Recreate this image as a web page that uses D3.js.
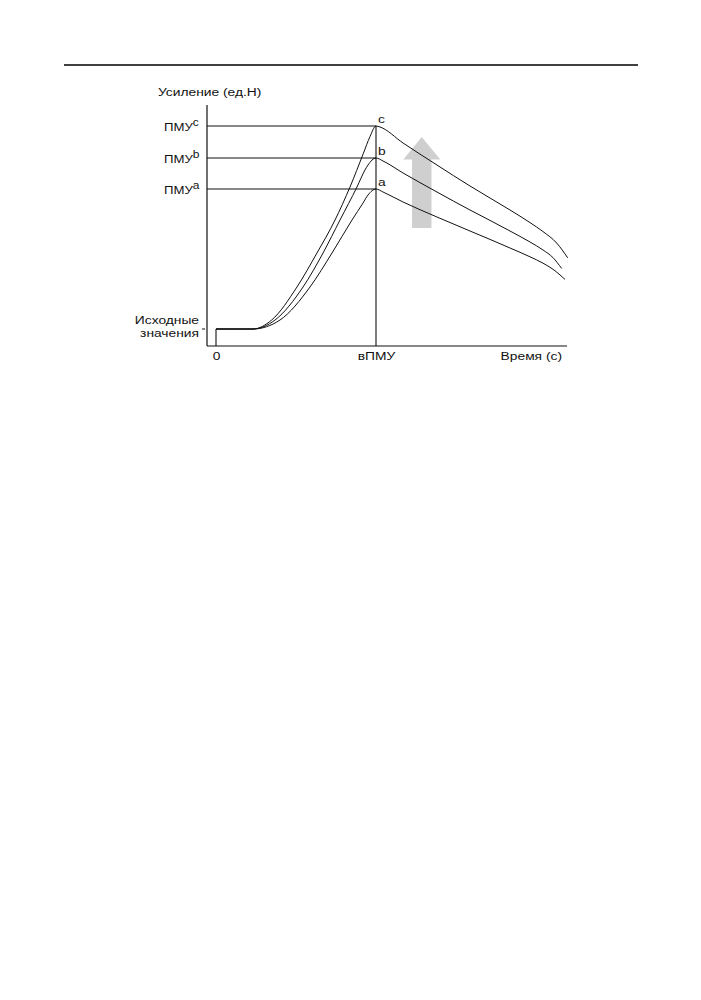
<!DOCTYPE html>
<html>
<head>
<meta charset="utf-8">
<script src="https://cdn.jsdelivr.net/npm/d3@7"></script>
<style>
  body { margin: 0; background: #fff; }
  text { font-family: "Liberation Sans", Arial, Helvetica, sans-serif; font-size: 11.5px; fill: #111; }
</style>
</head>
<body>
<svg id="chart" width="701" height="1000"></svg>
<script>
// time (s, arbitrary units) and gain (ед.Н, arbitrary units)
const timeDomain = [-0.5625, 21.9375];
const gainDomain = [0, 12.05];
const timeTicks = [0, 10];
const timeTickLabels = ['0', 'вПМУ'];
const baselineGain = 0.85;
const peakTime = 10;

const seriesNames = ['a', 'b', 'c'];
const peakGains = [7.85, 9.4, 11.0];

const seriesA = [
  [0, 0.85], [1.5, 0.85], [2.31, 0.85], [4.0, 1.3], [5.875, 2.95], [7.25, 4.65],
  [8.5, 6.3], [9.19, 7.15], [9.5, 7.55], [10, 7.85], [10.44, 7.7], [11.69, 7.2],
  [13.81, 6.45], [15.875, 5.75], [17.125, 5.33], [18.375, 4.9], [19.625, 4.46],
  [20.44, 4.14], [21.19, 3.76], [21.81, 3.33],
];
const seriesB = [
  [0, 0.85], [1.5, 0.85], [2.31, 0.85], [3.69, 1.3], [5.44, 2.95], [6.69, 4.65],
  [7.75, 6.3], [8.81, 7.95], [9.31, 8.8], [9.5, 9.05], [10, 9.4], [10.44, 9.25],
  [11.69, 8.65], [13.81, 7.7], [15.875, 6.8], [17.125, 6.28], [18.375, 5.75],
  [19.625, 5.2], [20.44, 4.8], [21.06, 4.42], [21.6, 3.88],
];
const seriesC = [
  [0, 0.85], [1.5, 0.85], [2.31, 0.85], [3.48, 1.3], [5.06, 2.95], [6.31, 4.65],
  [7.44, 6.3], [8.375, 7.95], [9.21, 9.63], [9.625, 10.47], [10, 11.0], [10.25, 10.95],
  [11.69, 10.15], [13.81, 9.05], [15.875, 8.0], [17.125, 7.4], [18.375, 6.8],
  [19.625, 6.17], [20.44, 5.72], [21.29, 5.15], [21.98, 4.41],
];

// grey arrow: centre time, tail gain, head-base gain, tip gain
const arrowTime = 12.86;
const arrowGains = [5.9, 9.33, 10.45];

const svg = d3.select('#chart');

const x = d3.scaleLinear().domain(timeDomain).range([207, 567]);
const y = d3.scaleLinear().domain(gainDomain).range([346, 105]);

// the printed face is wider than Arial, so stretch every label a little
const stretch = 1.2;
function label(px, py, str, anchor = 'start', size = null) {
  const t = svg.append('text')
    .attr('transform', `translate(${px},${py}) scale(${stretch},1)`)
    .attr('text-anchor', anchor)
    .text(str);
  if (size) t.style('font-size', `${size}px`);
  return t;
}

// rule at the top of the page
svg.append('line')
  .attr('x1', 64).attr('x2', 638)
  .attr('y1', 65).attr('y2', 65)
  .attr('stroke', '#000').attr('stroke-width', 1.4);

// arrow (behind curves)
const ax = x(arrowTime);
const shaftHalf = 9.7;
const headHalf = 18.5;
svg.append('path')
  .attr('d', d3.line()([
    [ax - shaftHalf, y(arrowGains[0])],
    [ax - shaftHalf, y(arrowGains[1])],
    [ax - headHalf, y(arrowGains[1])],
    [ax, y(arrowGains[2])],
    [ax + headHalf, y(arrowGains[1])],
    [ax + shaftHalf, y(arrowGains[1])],
    [ax + shaftHalf, y(arrowGains[0])],
  ]) + 'Z')
  .attr('fill', '#cfcfcf');

// axes
svg.append('line')
  .attr('x1', x(timeDomain[0])).attr('x2', x(timeDomain[0]))
  .attr('y1', y(gainDomain[1])).attr('y2', y(0))
  .attr('stroke', '#111').attr('stroke-width', 1.2);
svg.append('line')
  .attr('x1', x(timeDomain[0])).attr('x2', x(timeDomain[1]))
  .attr('y1', y(0)).attr('y2', y(0))
  .attr('stroke', '#111').attr('stroke-width', 1.2);

// x tick labels from the axis generator, then restyled
const xAxis = d3.axisBottom(x)
  .tickValues(timeTicks)
  .tickFormat((d, i) => timeTickLabels[i])
  .tickSize(0)
  .tickPadding(6);
const xAxisG = svg.append('g')
  .attr('transform', `translate(0,${y(0)})`)
  .call(xAxis);
xAxisG.select('.domain').remove();
xAxisG.attr('font-size', null).attr('font-family', null);
xAxisG.selectAll('text')
  .attr('fill', null)
  .attr('transform', `scale(${stretch},1)`)
  .attr('x', 0);

label(562, 360, 'Время (с)', 'end');
label(158, 96, 'Усиление (ед.Н)');

// baseline tick and label
svg.append('line')
  .attr('x1', x(timeDomain[0]) - 5).attr('x2', x(timeDomain[0]) - 2)
  .attr('y1', y(baselineGain)).attr('y2', y(baselineGain))
  .attr('stroke', '#111').attr('stroke-width', 1);
label(199, y(baselineGain) - 5, 'Исходные', 'end');
label(199, y(baselineGain) + 8, 'значения', 'end');

// zero-time vertical and peak-time vertical
svg.append('line')
  .attr('x1', x(0)).attr('x2', x(0))
  .attr('y1', y(baselineGain)).attr('y2', y(0))
  .attr('stroke', '#111').attr('stroke-width', 1.1);
svg.append('line')
  .attr('x1', x(peakTime)).attr('x2', x(peakTime))
  .attr('y1', y(d3.max(peakGains))).attr('y2', y(0))
  .attr('stroke', '#111').attr('stroke-width', 1.1);

// peak levels
peakGains.forEach((g, i) => {
  svg.append('line')
    .attr('x1', x(timeDomain[0])).attr('x2', x(peakTime))
    .attr('y1', y(g)).attr('y2', y(g))
    .attr('stroke', '#111').attr('stroke-width', 1.1);

  const lab = label(164, y(g) + 5, null, 'start', 11);
  lab.append('tspan').text('ПМУ');
  lab.append('tspan')
    .attr('dy', -5)
    .style('font-size', '10px')
    .text(seriesNames[i]);

  label(x(peakTime) + 2, y(g) - 3, seriesNames[i]);
});

// curves
const line = d3.line()
  .x((d) => x(d[0]))
  .y((d) => y(d[1]))
  .curve(d3.curveMonotoneX);

[seriesA, seriesB, seriesC].forEach((s) => {
  svg.append('path')
    .attr('d', line(s))
    .attr('fill', 'none')
    .attr('stroke', '#111')
    .attr('stroke-width', 1);
});
</script>
</body>
</html>
